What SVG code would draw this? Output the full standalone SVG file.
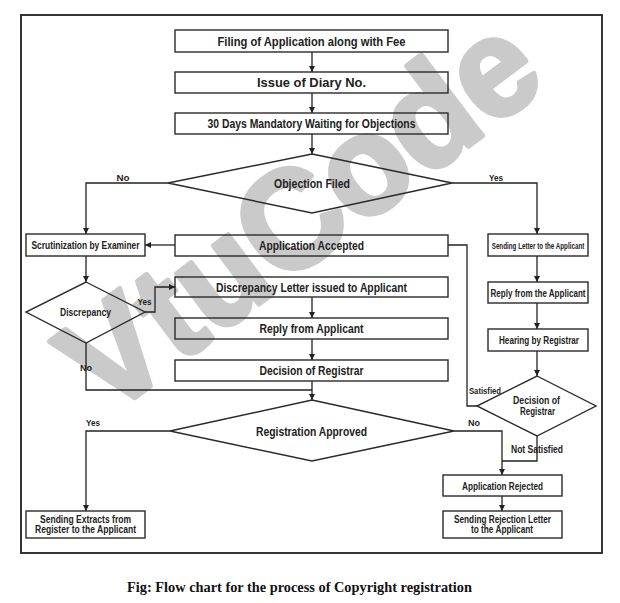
<svg xmlns="http://www.w3.org/2000/svg" width="620" height="603" viewBox="0 0 620 603">
<style>
.box{fill:none;stroke:#2a2a2a;stroke-width:1.4}
.dia{fill:none;stroke:#2a2a2a;stroke-width:1.4}
.ln{fill:none;stroke:#222;stroke-width:1.3}
.t{font-family:"Liberation Sans Narrow","Liberation Sans",Arial,sans-serif;font-weight:bold;fill:#222;text-anchor:middle}
.m{font-size:12.5px}
.s{font-size:10px}
.l{font-size:9.5px}
.wm{font-family:"Liberation Sans",Arial,sans-serif;font-weight:bold;font-size:140px;fill:#cacaca;stroke:#cacaca;stroke-width:5;stroke-linejoin:round;text-anchor:middle}
.cap{font-family:"Liberation Serif","Times New Roman",serif;font-weight:bold;font-size:15.5px;fill:#111;text-anchor:middle}
</style>
<defs>
<marker id="ah" markerWidth="6" markerHeight="6" refX="6" refY="3" orient="auto" markerUnits="userSpaceOnUse">
<path d="M0,0 L6,3 L0,6 z" fill="#222"/>
</marker>
</defs>
<rect width="620" height="603" fill="#fff"/>
<g id="watermark">
<text class="wm" x="298" y="262" transform="rotate(-37 298 212)" textLength="555" lengthAdjust="spacingAndGlyphs">VtuCode</text>
</g>
<rect x="21" y="15" width="581" height="538" fill="none" stroke="#222" stroke-width="1.8"/>

<g id="connectors">
<path class="ln" d="M312,52 V72" marker-end="url(#ah)"/>
<path class="ln" d="M312,93 V113" marker-end="url(#ah)"/>
<path class="ln" d="M312,134 V154" marker-end="url(#ah)"/>
<path class="ln" d="M168,183 H86 V234" marker-end="url(#ah)"/>
<path class="ln" d="M452,183 H537 V234" marker-end="url(#ah)"/>
<path class="ln" d="M175,245 H145" marker-end="url(#ah)"/>
<path class="ln" d="M86,256 V282" marker-end="url(#ah)"/>
<path class="ln" d="M145,312 H155 V287 H175" marker-end="url(#ah)"/>
<path class="ln" d="M312,297 V318" marker-end="url(#ah)"/>
<path class="ln" d="M312,339 V360" marker-end="url(#ah)"/>
<path class="ln" d="M312,381 V400" marker-end="url(#ah)"/>
<path class="ln" d="M86,343 V390 H312"/>
<path class="ln" d="M170,431 H86 V511" marker-end="url(#ah)"/>
<path class="ln" d="M454,431 H502 V475" marker-end="url(#ah)"/>
<path class="ln" d="M537,256 V282" marker-end="url(#ah)"/>
<path class="ln" d="M537,303 V329" marker-end="url(#ah)"/>
<path class="ln" d="M537,351 V376" marker-end="url(#ah)"/>
<path class="ln" d="M537,436 V461 H502"/>
<path class="ln" d="M477,406 H467 V245 H448"/>
<path class="ln" d="M502,496 V511" marker-end="url(#ah)"/>
</g>

<g id="n-filing"><rect class="box" x="175" y="30" width="273" height="22"/><text class="t m" x="311.5" y="45.5" textLength="188" lengthAdjust="spacingAndGlyphs">Filing of Application along with Fee</text></g>
<g id="n-diary"><rect class="box" x="175" y="72" width="273" height="21"/><text class="t m" x="311.5" y="87" textLength="109" lengthAdjust="spacingAndGlyphs">Issue of Diary No.</text></g>
<g id="n-wait"><rect class="box" x="175" y="113" width="273" height="21"/><text class="t m" x="311.5" y="128" textLength="208" lengthAdjust="spacingAndGlyphs">30 Days Mandatory Waiting for Objections</text></g>
<g id="n-objection"><polygon class="dia" points="312,154 452,183 312,213 168,183"/><text class="t m" x="312" y="187.5" textLength="76" lengthAdjust="spacingAndGlyphs">Objection Filed</text></g>
<g id="n-scrutiny"><rect class="box" x="26" y="234" width="119" height="22"/><text class="t s" x="85.5" y="248.5" textLength="108" lengthAdjust="spacingAndGlyphs">Scrutinization by Examiner</text></g>
<g id="n-accepted"><rect class="box" x="175" y="235" width="273" height="21"/><text class="t m" x="311.5" y="250" textLength="105" lengthAdjust="spacingAndGlyphs">Application Accepted</text></g>
<g id="n-sendletter"><rect class="box" x="488" y="234" width="100" height="22"/><text class="t" style="font-size:9.5px" x="0" y="0" transform="translate(538 248.5) scale(0.66 1)">Sending Letter to the Applicant</text></g>
<g id="n-discrepancy"><polygon class="dia" points="86,282 145,312 86,343 26,312"/><text class="t s" x="85.5" y="316" textLength="51" lengthAdjust="spacingAndGlyphs">Discrepancy</text></g>
<g id="n-discletter"><rect class="box" x="175" y="277" width="273" height="20"/><text class="t m" x="311.5" y="291.5" textLength="191" lengthAdjust="spacingAndGlyphs">Discrepancy Letter issued to Applicant</text></g>
<g id="n-reply"><rect class="box" x="175" y="318" width="273" height="21"/><text class="t m" x="311.5" y="333" textLength="104" lengthAdjust="spacingAndGlyphs">Reply from Applicant</text></g>
<g id="n-decision"><rect class="box" x="175" y="360" width="273" height="21"/><text class="t m" x="311.5" y="375" textLength="104" lengthAdjust="spacingAndGlyphs">Decision of Registrar</text></g>
<g id="n-replyright"><rect class="box" x="488" y="282" width="100" height="21"/><text class="t s" x="538" y="296.5" textLength="95" lengthAdjust="spacingAndGlyphs">Reply from the Applicant</text></g>
<g id="n-hearing"><rect class="box" x="488" y="329" width="100" height="22"/><text class="t s" x="539" y="344" textLength="80" lengthAdjust="spacingAndGlyphs">Hearing by Registrar</text></g>
<g id="n-decision2"><polygon class="dia" points="537,376 596,406 537,436 477,406"/><text class="t s" x="536.5" y="404" textLength="47" lengthAdjust="spacingAndGlyphs">Decision of</text><text class="t s" x="537.5" y="415" textLength="35" lengthAdjust="spacingAndGlyphs">Registrar</text></g>
<g id="n-approved"><polygon class="dia" points="312,400 454,431 312,461 170,431"/><text class="t m" x="311.5" y="435.5" textLength="111" lengthAdjust="spacingAndGlyphs">Registration Approved</text></g>
<g id="n-rejected"><rect class="box" x="443" y="475" width="119" height="21"/><text class="t s" x="502.5" y="489.5" textLength="81" lengthAdjust="spacingAndGlyphs">Application Rejected</text></g>
<g id="n-rejletter"><rect class="box" x="443" y="511" width="119" height="27"/><text class="t s" x="502.5" y="522.5" textLength="97" lengthAdjust="spacingAndGlyphs">Sending Rejection Letter</text><text class="t s" x="502" y="533" textLength="62" lengthAdjust="spacingAndGlyphs">to the Applicant</text></g>
<g id="n-extracts"><rect class="box" x="26" y="511" width="119" height="27"/><text class="t s" x="85.5" y="522.5" textLength="91" lengthAdjust="spacingAndGlyphs">Sending Extracts from</text><text class="t s" x="85.5" y="533" textLength="101" lengthAdjust="spacingAndGlyphs">Register to the Applicant</text></g>

<g id="labels">
<text class="t l" x="123" y="180.5" textLength="13" lengthAdjust="spacingAndGlyphs">No</text>
<text class="t l" x="496" y="180.5" textLength="14" lengthAdjust="spacingAndGlyphs">Yes</text>
<text class="t l" x="144.5" y="304.5" textLength="14" lengthAdjust="spacingAndGlyphs">Yes</text>
<text class="t l" x="86" y="370.5" textLength="12" lengthAdjust="spacingAndGlyphs">No</text>
<text class="t l" x="93" y="425.5" textLength="14" lengthAdjust="spacingAndGlyphs">Yes</text>
<text class="t l" x="474" y="425.5" textLength="12" lengthAdjust="spacingAndGlyphs">No</text>
<text class="t" style="font-size:8.5px" x="485" y="394" textLength="32" lengthAdjust="spacingAndGlyphs">Satisfied</text>
<text class="t s" x="537" y="452.5" textLength="52" lengthAdjust="spacingAndGlyphs">Not Satisfied</text>
</g>

<text class="cap" x="299.5" y="592" textLength="345" lengthAdjust="spacingAndGlyphs">Fig: Flow chart for the process of Copyright registration</text>
</svg>
